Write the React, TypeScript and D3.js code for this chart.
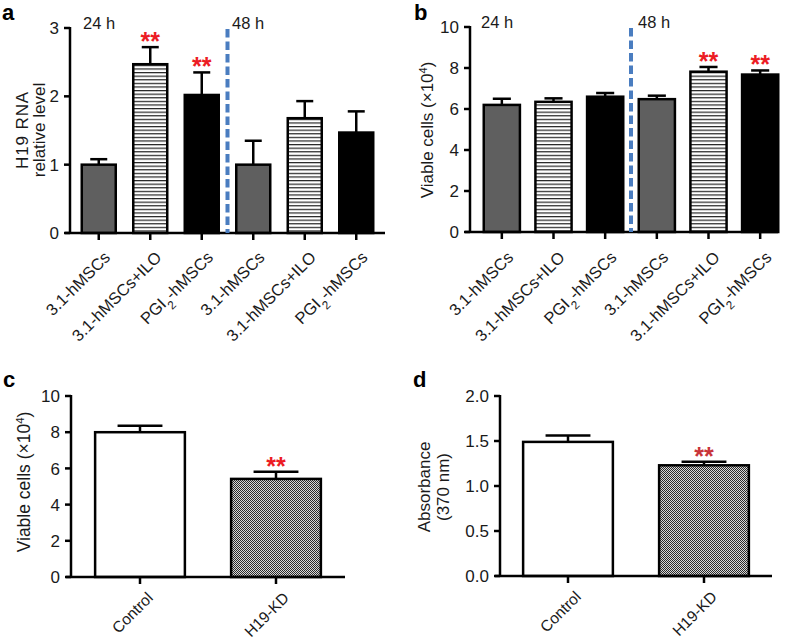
import React from "react";
import * as d3 from "d3";

// ---------- data ----------
const groupsAB = ["3.1-hMSCs", "3.1-hMSCs+ILO", "PGI2-hMSCs", "3.1-hMSCs", "3.1-hMSCs+ILO", "PGI2-hMSCs"];
const fillsAB = ["gray", "stripe", "black", "gray", "stripe", "black"];
const valuesA = [1.0, 2.47, 2.02, 1.0, 1.68, 1.47];
const errTopA = [1.08, 2.72, 2.35, 1.35, 1.93, 1.78];
const sigA = [false, true, true, false, false, false];
const ticksA = [0, 1, 2, 3];

const valuesB = [6.2, 6.35, 6.6, 6.48, 7.82, 7.68];
const errTopB = [6.5, 6.52, 6.78, 6.65, 8.05, 7.88];
const sigB = [false, false, false, false, true, true];
const ticksB = [0, 2, 4, 6, 8, 10];

const groupsCD = ["Control", "H19-KD"];
const fillsCD = ["white", "checker"];
const valuesC = [8.0, 5.42];
const errTopC = [8.35, 5.82];
const sigC = [false, true];
const ticksC = [0, 2, 4, 6, 8, 10];

const valuesD = [1.49, 1.23];
const errTopD = [1.56, 1.27];
const sigD = [false, true];
const ticksD = [0, 0.5, 1.0, 1.5, 2.0];

const timeLabels = ["24 h", "48 h"];

// ---------- styles ----------
const FONT = "'Liberation Sans', Arial, Helvetica, sans-serif";
const INK = "#1a1a1a";
const fillMap: Record<string, string> = {
  gray: "#5f5f5f",
  black: "#000",
  white: "#fff",
  stripe: "url(#stripes)",
  checker: "url(#checker)",
};

function CatLabel({ text }: { text: string }) {
  if (text.startsWith("PGI2")) {
    return (
      <>
        PGI
        <tspan baselineShift="sub" fontSize="0.72em">2</tspan>
        {text.slice(4)}
      </>
    );
  }
  return <>{text}</>;
}

type PanelProps = {
  letter: string;
  letterX: number;
  letterY: number;
  axisX: number;
  yTop: number;
  yBottom: number;
  yMax: number;
  ticks: number[];
  tickFmt: (v: number) => string;
  xRange: [number, number];
  axisEnd: number;
  barFrac: number;
  cats: string[];
  fills: string[];
  values: number[];
  errTop: number[];
  sig: boolean[];
  starColor: string;
  yLabel: React.ReactNode;
  catFont: number;
  catOffset: [number, number];
  divider?: boolean;
  timeTextX?: [number, number];
};

function Panel(p: PanelProps) {
  const y = d3.scaleLinear().domain([0, p.yMax]).range([p.yBottom, p.yTop]);
  const idx = p.cats.map((_, i) => String(i));
  const x = d3.scaleBand<string>().domain(idx).range(p.xRange).padding(0);
  const bw = x.bandwidth() * p.barFrac;
  const cap = bw * 0.5;
  const divX = x("3") as number;
  return (
    <g fontFamily={FONT}>
      <text x={p.letterX} y={p.letterY} fontSize={22} fontWeight="bold" fill="#000">
        {p.letter}
      </text>
      {/* bars */}
      {p.values.map((v, i) => {
        const cx = (x(String(i)) as number) + x.bandwidth() / 2;
        return (
          <g key={i}>
            <line x1={cx} x2={cx} y1={y(v)} y2={y(p.errTop[i])} stroke="#000" strokeWidth={2.5} />
            <line x1={cx - cap / 2} x2={cx + cap / 2} y1={y(p.errTop[i])} y2={y(p.errTop[i])} stroke="#000" strokeWidth={2.5} />
            <rect
              x={cx - bw / 2}
              y={y(v)}
              width={bw}
              height={y(0) - y(v)}
              fill={fillMap[p.fills[i]]}
              stroke="#000"
              strokeWidth={2.5}
            />
            {p.sig[i] && (
              <text
                x={cx}
                y={y(p.errTop[i]) + 3}
                textAnchor="middle"
                fontSize={25}
                fontWeight="bold"
                fill={p.starColor}
              >
                **
              </text>
            )}
          </g>
        );
      })}
      {/* y axis */}
      <line x1={p.axisX} x2={p.axisX} y1={p.yTop - 1} y2={p.yBottom} stroke="#000" strokeWidth={2.5} />
      {p.ticks.map((t) => (
        <g key={t}>
          <line x1={p.axisX - 6} x2={p.axisX} y1={y(t)} y2={y(t)} stroke="#000" strokeWidth={2.5} />
          <text x={p.axisX - 11} y={y(t)} dy="0.36em" textAnchor="end" fontSize={17} fill={INK}>
            {p.tickFmt(t)}
          </text>
        </g>
      ))}
      {/* x axis */}
      <line x1={p.axisX - 5} x2={p.axisEnd} y1={p.yBottom} y2={p.yBottom} stroke="#000" strokeWidth={2.5} />
      {p.cats.map((c, i) => {
        const cx = (x(String(i)) as number) + x.bandwidth() / 2;
        return (
          <g key={i}>
            <line x1={cx} x2={cx} y1={p.yBottom} y2={p.yBottom + 7} stroke="#000" strokeWidth={2.5} />
            <text
              transform={`translate(${cx + p.catOffset[0]},${p.yBottom + p.catOffset[1]}) rotate(-45)`}
              textAnchor="end"
              dy="0.72em"
              fontSize={p.catFont}
              fill={INK}
            >
              <CatLabel text={c} />
            </text>
          </g>
        );
      })}
      {p.divider && (
        <line
          x1={divX}
          x2={divX}
          y1={p.yTop + 1}
          y2={p.yBottom}
          stroke="#4a7dc0"
          strokeWidth={4}
          strokeDasharray="8.5 4"
        />
      )}
      {p.timeTextX && (
        <>
          <text x={p.timeTextX[0]} y={p.yTop + 1} fontSize={16.5} fill={INK}>
            {timeLabels[0]}
          </text>
          <text x={p.timeTextX[1]} y={p.yTop + 1} fontSize={16.5} fill={INK}>
            {timeLabels[1]}
          </text>
        </>
      )}
      {p.yLabel}
    </g>
  );
}

const fmtInt = (v: number) => d3.format("d")(v);
const fmt1 = (v: number) => d3.format(".1f")(v);

export default function App() {
  return (
    <svg width={788} height={640} style={{ display: "block", position: "absolute", left: 0, top: 0, background: "#fff" }}>
      <defs>
        <pattern id="stripes" patternUnits="userSpaceOnUse" width={6} height={3.6}>
          <rect width={6} height={3.6} fill="#fff" />
          <rect y={0} width={6} height={1.2} fill="#222" />
        </pattern>
        <pattern id="checker" patternUnits="userSpaceOnUse" width={2} height={2}>
          <rect width={2} height={2} fill="#d8d8d8" />
          <rect x={0} y={0} width={1} height={1} fill="#2a2a2a" />
          <rect x={1} y={1} width={1} height={1} fill="#2a2a2a" />
        </pattern>
      </defs>
      <rect width={788} height={640} fill="#fff" />

      <Panel
        letter="a"
        letterX={2}
        letterY={20}
        axisX={70}
        yTop={28}
        yBottom={233}
        yMax={3}
        ticks={ticksA}
        tickFmt={fmtInt}
        xRange={[73, 382]}
        axisEnd={385}
        barFrac={0.66}
        cats={groupsAB}
        fills={fillsAB}
        values={valuesA}
        errTop={errTopA}
        sig={sigA}
        starColor="#ec1c24"
        catFont={16.5}
        catOffset={[4, 17]}
        divider
        timeTextX={[83, 232]}
        yLabel={
          <text transform="translate(23,130) rotate(-90)" textAnchor="middle" fontSize={17} fill={INK}>
            <tspan x={0} dy="0.3em" letterSpacing="0.9">H19 RNA</tspan>
            <tspan x={0} dy="1.0em">relative level</tspan>
          </text>
        }
      />
      <Panel
        letter="b"
        letterX={414}
        letterY={20}
        axisX={470}
        yTop={27}
        yBottom={232}
        yMax={10}
        ticks={ticksB}
        tickFmt={fmtInt}
        xRange={[476, 786]}
        axisEnd={778}
        barFrac={0.7}
        cats={groupsAB}
        fills={fillsAB}
        values={valuesB}
        errTop={errTopB}
        sig={sigB}
        starColor="#ec1c24"
        catFont={16.5}
        catOffset={[4, 18]}
        divider
        timeTextX={[481, 638]}
        yLabel={
          <text transform="translate(427,130) rotate(-90)" textAnchor="middle" dy="0.35em" fontSize={17} fill={INK}>
            Viable cells (×10
            <tspan baselineShift="super" fontSize="0.65em">4</tspan>)
          </text>
        }
      />
      <Panel
        letter="c"
        letterX={3}
        letterY={387}
        axisX={71}
        yTop={396}
        yBottom={577}
        yMax={10}
        ticks={ticksC}
        tickFmt={fmtInt}
        xRange={[72, 344]}
        axisEnd={345}
        barFrac={0.66}
        cats={groupsCD}
        fills={fillsCD}
        values={valuesC}
        errTop={errTopC}
        sig={sigC}
        starColor="#ec1c24"
        catFont={15.5}
        catOffset={[6, 14]}
        yLabel={
          <text transform="translate(24,482) rotate(-90)" textAnchor="middle" dy="0.35em" fontSize={17.5} fill={INK}>
            Viable cells (×10
            <tspan baselineShift="super" fontSize="0.65em">4</tspan>)
          </text>
        }
      />
      <Panel
        letter="d"
        letterX={413}
        letterY={387}
        axisX={500}
        yTop={396}
        yBottom={576}
        yMax={2}
        ticks={ticksD}
        tickFmt={fmt1}
        xRange={[500, 772]}
        axisEnd={772}
        barFrac={0.66}
        cats={groupsCD}
        fills={fillsCD}
        values={valuesD}
        errTop={errTopD}
        sig={sigD}
        starColor="#c9353a"
        catFont={15.5}
        catOffset={[6, 14]}
        yLabel={
          <text transform="translate(433,487) rotate(-90)" textAnchor="middle" fontSize={17} fill={INK}>
            <tspan x={0} dy="-0.2em">Absorbance</tspan>
            <tspan x={0} dy="1.15em">(370 nm)</tspan>
          </text>
        }
      />
    </svg>
  );
}
